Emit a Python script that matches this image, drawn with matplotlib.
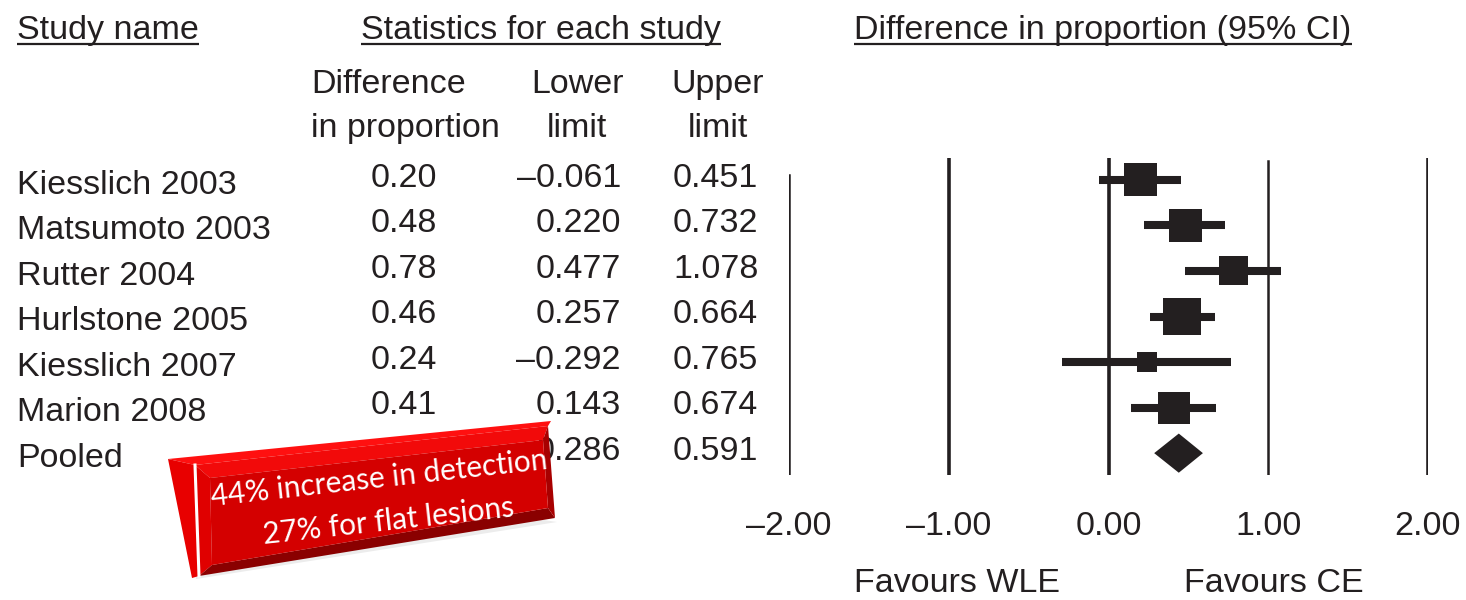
import numpy as np
import matplotlib
matplotlib.use("Agg")
from matplotlib import pyplot as plt
from matplotlib.patches import Polygon
from matplotlib.transforms import blended_transform_factory

# study data
studies = ["Kiesslich 2003", "Matsumoto 2003", "Rutter 2004", "Hurlstone 2005",
           "Kiesslich 2007", "Marion 2008"]
diff = [0.20, 0.48, 0.78, 0.46, 0.24, 0.41]
lower = [-0.061, 0.220, 0.477, 0.257, -0.292, 0.143]
upper = [0.451, 0.732, 1.078, 0.664, 0.765, 0.674]
weights = [18.4, 18.4, 14.2, 23.2, 6.8, 17.3]   # relative study weights (square area)

pooled_name = "Pooled"
pooled_diff = 0.44   # hidden behind the callout in the original
pooled_lower = 0.286
pooled_upper = 0.591

xticks = [-2, -1, 0, 1, 2]
xtick_labels = ["\u20132.00", "\u20131.00", "0.00", "1.00", "2.00"]

callout = ["44% increase in detection", "27% for flat lesions"]

ink = "#231f20"
fs = 24.5
plt.rcParams['font.family'] = ['Liberation Sans', 'DejaVu Sans']

W, H = 1466, 600
fig = plt.figure(figsize=(W / 100, H / 100), dpi=100)

# forest plot axes, placed in pixel terms
ax_l, ax_r, ax_t, ax_b = 789, 1428, 158, 475
ax = fig.add_axes([ax_l / W, 1 - ax_b / H, (ax_r - ax_l) / W, (ax_b - ax_t) / H])
ax.set_xlim(-2, 2)
n_rows = len(studies) + 1
ax.set_ylim(n_rows - 1 + 0.48, -0.48)
for s in ax.spines.values():
    s.set_visible(False)
ax.set_yticks([])
ax.set_xticks(xticks)
ax.set_xticklabels(xtick_labels, fontsize=fs, color=ink)
ax.tick_params(axis="x", length=0, pad=26)

# reference lines at the tick values
line_tops = {-2: 0.946, -1: 1.0, 0: 1.0, 1: 0.99, 2: 1.0}
line_w = {-2: 1.8, -1: 2.6, 0: 2.6, 1: 1.8, 2: 2.6}
for xv in xticks:
    ax.axvline(xv, ymin=0, ymax=line_tops[xv], color=ink, lw=line_w[xv], zorder=1)

rows = np.arange(len(studies))
ax.hlines(rows, lower, upper, color=ink, lw=5.8, zorder=2)
side_px = np.sqrt(weights) * 7.7
ax.scatter(diff, rows, marker="s", s=(side_px * 0.72) ** 2, color=ink,
           linewidths=0, zorder=3)

# pooled diamond
py = len(studies)
dh = 0.43
diamond = Polygon([(pooled_lower, py), (pooled_diff, py - dh),
                   (pooled_upper, py), (pooled_diff, py + dh)],
                  closed=True, color=ink, lw=0, zorder=3)
ax.add_patch(diamond)

# overlay in pixel coordinates for text table and callout
ov = fig.add_axes([0, 0, 1, 1])
ov.set_xlim(0, W)
ov.set_ylim(H, 0)
ov.axis("off")
ov.patch.set_alpha(0)
rowtr = blended_transform_factory(ov.transData, ax.transData)

# headers
headers = [
    ov.text(17, 39, "Study name", fontsize=fs, color=ink, ha="left", va="baseline"),
    ov.text(541, 39, "Statistics for each study", fontsize=fs, color=ink, ha="center", va="baseline"),
    ov.text(1103, 39, "Difference in proportion (95% CI)", fontsize=fs, color=ink, ha="center", va="baseline"),
]
ov.text(311, 93, "Difference", fontsize=fs, color=ink, ha="left", va="baseline")
ov.text(311, 137, "in proportion", fontsize=fs, color=ink, ha="left", va="baseline")
ov.text(577, 93, "Lower", fontsize=fs, color=ink, ha="center", va="baseline")
ov.text(577, 137, "limit", fontsize=fs, color=ink, ha="center", va="baseline")
ov.text(718, 93, "Upper", fontsize=fs, color=ink, ha="center", va="baseline")
ov.text(718, 137, "limit", fontsize=fs, color=ink, ha="center", va="baseline")


def fmt(v, nd):
    s = "{:.{}f}".format(abs(v), nd)
    return ("\u2013" + s) if v < 0 else s


names_all = studies + [pooled_name]
lower_all = lower + [pooled_lower]
upper_all = upper + [pooled_upper]
name_off = 0.30   # baseline offset in rows
num_off = 0.15
for i in range(n_rows):
    ov.text(17, i + name_off, names_all[i], transform=rowtr, fontsize=fs, color=ink,
            ha="left", va="baseline")
    if i < len(diff):
        ov.text(371, i + num_off, fmt(diff[i], 2), transform=rowtr, fontsize=fs,
                color=ink, ha="left", va="baseline")
    ov.text(621, i + num_off, fmt(lower_all[i], 3), transform=rowtr, fontsize=fs,
            color=ink, ha="right", va="baseline")
    ov.text(673, i + num_off, fmt(upper_all[i], 3), transform=rowtr, fontsize=fs,
            color=ink, ha="left", va="baseline")

ov.text(957, 592, "Favours WLE", fontsize=fs, color=ink, ha="center", va="baseline")
ov.text(1274, 592, "Favours CE", fontsize=fs, color=ink, ha="center", va="baseline")

# underline the headers
fig.canvas.draw()
for t in headers:
    bb = t.get_window_extent()
    ov.plot([bb.x0, bb.x1], [44, 44], color=ink, lw=1.6, solid_capstyle="butt")

# red bevelled callout box
o_tl, o_tr, o_br, o_bl = (195, 465), (548, 426), (555, 518), (199, 576)
i_tl, i_tr, i_br, i_bl = (210, 478), (543, 440), (548, 508), (212, 565)
s_tl, s_tr = (168, 459), (551, 421)
polys = [
    ([(s_tl[0] + 2, s_tl[1] + 6), (o_bl[0] - 3, o_bl[1] + 3), (o_br[0] + 2, o_br[1] + 4)], "#ececec"),
    ([s_tl, s_tr, o_tr, o_tl], "#ff1010"),
    ([s_tl, o_tl, o_bl, (192, 578)], "#e80000"),
    ([o_tl, o_tr, i_tr, i_tl], "#f20a0a"),
    ([o_tl, i_tl, i_bl, o_bl], "#e00000"),
    ([o_bl, i_bl, i_br, o_br], "#8a0000"),
    ([o_tr, o_br, i_br, i_tr], "#a80000"),
    ([i_tl, i_tr, i_br, i_bl], "#d40000"),
]
for pts, c in polys:
    ov.add_patch(Polygon(pts, closed=True, facecolor=c, edgecolor="none", zorder=5))
ov.plot([o_tl[0], o_bl[0]], [o_tl[1], o_bl[1]], color="white", lw=2.2, zorder=6)

ang = 6.3
ov.text(379, 478, callout[0], color="white", fontsize=21.5, family=["Lato", "DejaVu Sans"],
        ha="center", va="center", rotation=ang, rotation_mode="anchor", zorder=7)
ov.text(388, 521, callout[1], color="white", fontsize=21.5, family=["Lato", "DejaVu Sans"],
        ha="center", va="center", rotation=ang, rotation_mode="anchor", zorder=7)

fig.savefig("out.png", dpi=100)
